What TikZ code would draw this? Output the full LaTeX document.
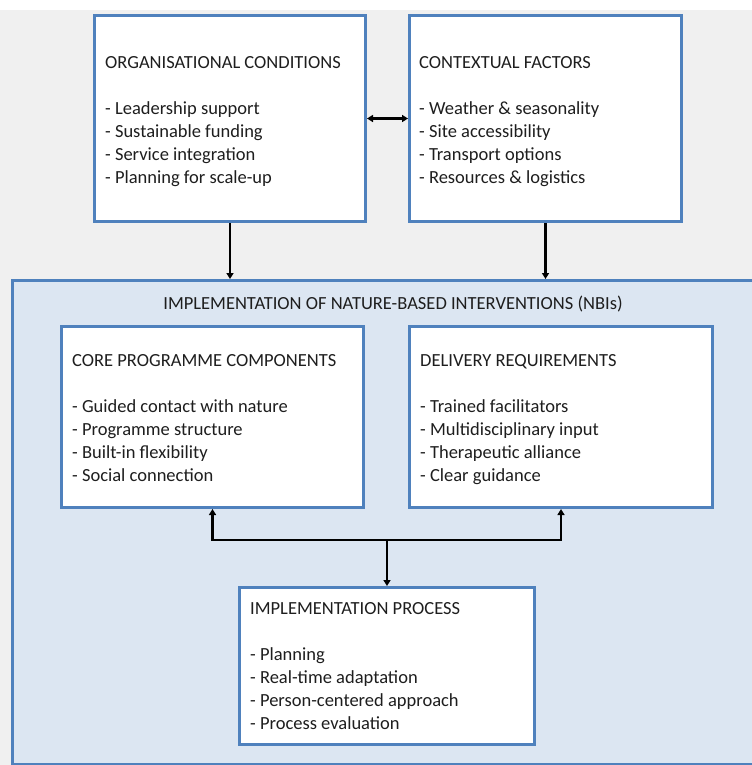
\documentclass[tikz,border=0pt]{standalone}
\usepackage{fontspec}
\setmainfont{Carlito}
\usetikzlibrary{arrows.meta}
\definecolor{bordblue}{HTML}{4F81BD}
\definecolor{contfill}{HTML}{DCE6F2}
\definecolor{bggray}{HTML}{F0F0F0}
\definecolor{txtcol}{HTML}{1E1E1E}
\tikzset{
  box/.style={draw=bordblue, line width=3bp, fill=white, anchor=north west, inner sep=0pt},
  txt/.style={anchor=north west, inner sep=0pt, align=left, text=txtcol,
     font=\fontsize{18.5bp}{23bp}\selectfont},
  arr/.style={line width=2.6bp, -{Triangle[length=6bp,width=7bp]}},
  darr/.style={line width=2.6bp, {Triangle[length=6bp,width=7bp]}-{Triangle[length=6bp,width=7bp]}}
}
\begin{document}
\begin{tikzpicture}[x=1bp,y=-1bp]
\useasboundingbox (0,0) rectangle (752,765);
\fill[white] (0,0) rectangle (752,765);
\fill[bggray] (0,10) rectangle (752,765);
% container
\node[draw=bordblue, line width=3bp, fill=contfill, anchor=north west, inner sep=0pt,
      minimum width=760bp, minimum height=484bp] (cont) at (11,279) {};
\node[anchor=base, inner sep=0pt, text=txtcol, font=\fontsize{18.5bp}{23bp}\selectfont]
  (title) at (393,309) {IMPLEMENTATION OF NATURE-BASED INTERVENTIONS (NBIs)};
% top boxes
\node[box, minimum width=271bp, minimum height=206bp] (org) at (93,14) {};
\node[box, minimum width=272bp, minimum height=206bp] (ctx) at (408,14) {};
\node[txt] (orgt) at (105,56) {ORGANISATIONAL CONDITIONS\\[23bp]- Leadership support\\- Sustainable funding\\- Service integration\\- Planning for scale-up};
\node[txt] (ctxt) at (419,56) {CONTEXTUAL FACTORS\\[23bp]- Weather \& seasonality\\- Site accessibility\\- Transport options\\- Resources \& logistics};
% inner boxes
\node[box, minimum width=302bp, minimum height=181bp] (core) at (60,325) {};
\node[box, minimum width=303bp, minimum height=181bp] (deliv) at (408,325) {};
\node[box, minimum width=295bp, minimum height=157bp] (proc) at (238,586) {};
\node[txt] (coret) at (72,354) {CORE PROGRAMME COMPONENTS\\[23bp]- Guided contact with nature\\- Programme structure\\- Built-in flexibility\\- Social connection};
\node[txt] (delivt) at (420,354) {DELIVERY REQUIREMENTS\\[23bp]- Trained facilitators\\- Multidisciplinary input\\- Therapeutic alliance\\- Clear guidance};
\node[txt] (proct) at (250,602) {IMPLEMENTATION PROCESS\\[23bp]- Planning\\- Real-time adaptation\\- Person-centered approach\\- Process evaluation};
% connectors
\draw[darr] (org.east) -- (ctx.west);
\draw[arr] (org.south) -- (org.south |- cont.north);
\draw[arr] (ctx.south) -- (ctx.south |- cont.north);
\coordinate (j) at (proc.north |- 0,540);
\draw[line width=2.6bp, -{Triangle[length=6bp,width=7bp]}] (j) -| (core.south);
\draw[line width=2.6bp, -{Triangle[length=6bp,width=7bp]}] (j) -| (deliv.south);
\draw[arr] (j) -- (proc.north);
\end{tikzpicture}
\end{document}
